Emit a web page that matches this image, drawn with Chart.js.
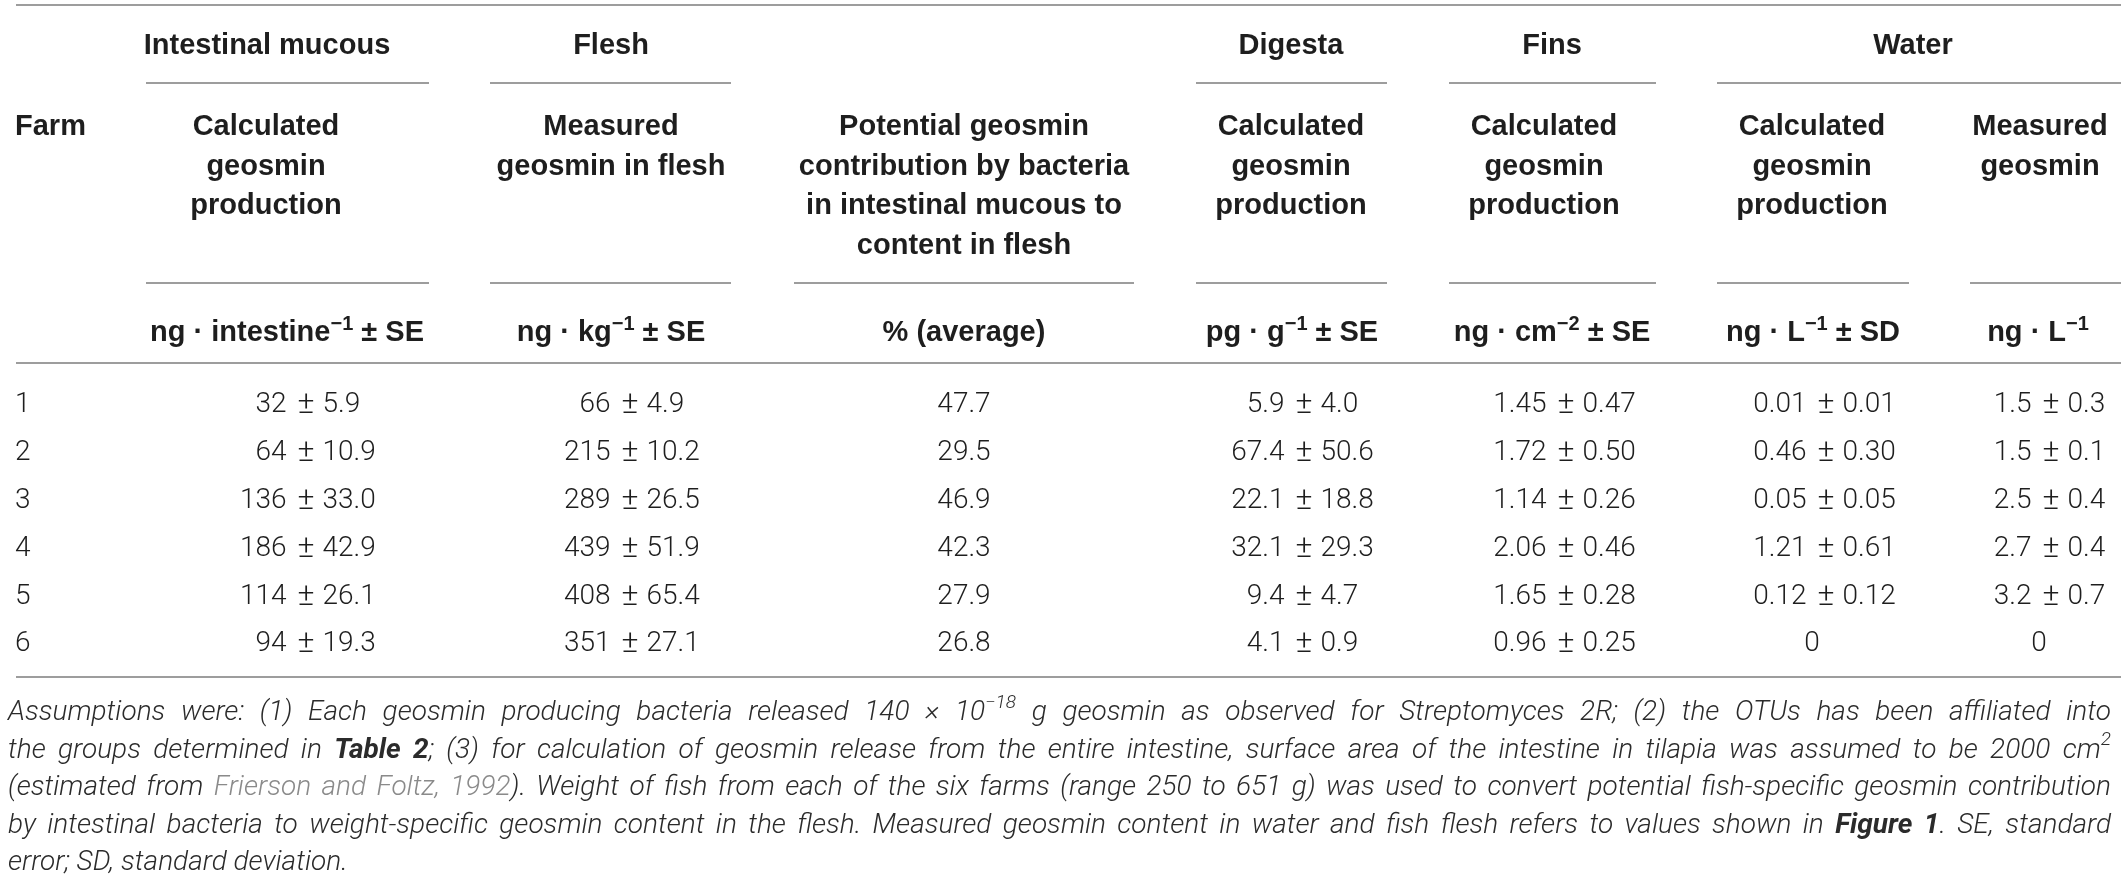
<!DOCTYPE html>
<html>
<head>
<meta charset="utf-8">
<script src="https://cdn.jsdelivr.net/npm/chart.js@4.4.0/dist/chart.umd.min.js"></script>
<style>
  html, body { margin: 0; padding: 0; background: #fff; width: 2121px; height: 880px; overflow: hidden; }
  #wrap { position: relative; width: 2121px; height: 880px; }
  #tbl { position: absolute; left: 0; top: 0; }
  #caption { position: absolute; left: 8px; top: 692px; width: 2103px;
    font-family: Roboto, "Liberation Sans", sans-serif; font-weight: 300; font-style: italic;
    font-size: 28px; line-height: 37.5px; color: #2b2b2b; }
  #caption .ln { white-space: nowrap; }
  #caption b { font-weight: 700; }
  #caption .ref { color: #8a8a8a; }
  #caption sup { font-size: 0.68em; line-height: 0; position: relative; top: -0.1em; }
</style>
</head>
<body>
<div id="wrap">
  <canvas id="tbl" width="2121" height="880"></canvas>
  <div id="caption">
    <div class="ln">Assumptions were: (1) Each geosmin producing bacteria released 140 × 10<sup>−18</sup> g geosmin as observed for Streptomyces 2R; (2) the OTUs has been affiliated into</div>
    <div class="ln">the groups determined in <b>Table 2</b>; (3) for calculation of geosmin release from the entire intestine, surface area of the intestine in tilapia was assumed to be 2000 cm<sup>2</sup></div>
    <div class="ln">(estimated from <span class="ref">Frierson and Foltz, 1992</span>). Weight of fish from each of the six farms (range 250 to 651 g) was used to convert potential fish-specific geosmin contribution</div>
    <div class="ln">by intestinal bacteria to weight-specific geosmin content in the flesh. Measured geosmin content in water and fish flesh refers to values shown in <b>Figure 1</b>. SE, standard</div>
    <div class="ln last">error; SD, standard deviation.</div>
  </div>
</div>
<script>
// ---------------- DATA ----------------
const farms = ['1', '2', '3', '4', '5', '6'];

const intestinalMean = [32, 64, 136, 186, 114, 94];
const intestinalSE   = [5.9, 10.9, 33.0, 42.9, 26.1, 19.3];

const fleshMean = [66, 215, 289, 439, 408, 351];
const fleshSE   = [4.9, 10.2, 26.5, 51.9, 65.4, 27.1];

const potentialPct = [47.7, 29.5, 46.9, 42.3, 27.9, 26.8];

const digestaMean = [5.9, 67.4, 22.1, 32.1, 9.4, 4.1];
const digestaSE   = [4.0, 50.6, 18.8, 29.3, 4.7, 0.9];

const finsMean = [1.45, 1.72, 1.14, 2.06, 1.65, 0.96];
const finsSE   = [0.47, 0.50, 0.26, 0.46, 0.28, 0.25];

const waterCalcMean = [0.01, 0.46, 0.05, 1.21, 0.12, 0];
const waterCalcSD   = [0.01, 0.30, 0.05, 0.61, 0.12, null];

const waterMeasMean = [1.5, 1.5, 2.5, 2.7, 3.2, 0];
const waterMeasSD   = [0.3, 0.1, 0.4, 0.4, 0.7, null];

// ---------------- LAYOUT / STYLE ----------------
const TEXT = '#1e1e1e';
const RULE = '#9d9d9d';
const HEAD_FONT = '700 29px "Liberation Sans", Arial, sans-serif';
const SUP_HEAD_FONT = '700 20px "Liberation Sans", Arial, sans-serif';
const VAL_PX = 28;
const VAL_FONT = '300 28px Roboto, "Liberation Sans", sans-serif';
const PM_FONT = '300 32px Roboto, "Liberation Sans", sans-serif';
const PM_GAP_L = 11;
const PM_GAP_R = 8;

const columns = [
  { key: 'farm', x: 15 },
  { key: 'int',  x: 306,  mean: intestinalMean, err: intestinalSE, dm: 0, de: 1 },
  { key: 'fle',  x: 630,  mean: fleshMean, err: fleshSE, dm: 0, de: 1 },
  { key: 'pot',  x: 964,  mean: potentialPct, dm: 1 },
  { key: 'dig',  x: 1304, mean: digestaMean, err: digestaSE, dm: 1, de: 1 },
  { key: 'fin',  x: 1566, mean: finsMean, err: finsSE, dm: 2, de: 2 },
  { key: 'wcal', x: 1826, zeroX: 1812, mean: waterCalcMean, err: waterCalcSD, dm: 2, de: 2 },
  { key: 'wmea', x: 2051, zeroX: 2039, mean: waterMeasMean, err: waterMeasSD, dm: 1, de: 1 }
];

const groupHeaders = [
  { t: 'Intestinal mucous', x: 267 },
  { t: 'Flesh', x: 611 },
  { t: 'Digesta', x: 1291 },
  { t: 'Fins', x: 1552 },
  { t: 'Water', x: 1913 }
];
const GROUP_BASE = 53.5;
const groupRules = [[146, 429], [490, 731], [1196, 1387], [1449, 1656], [1717, 2121]];
const GROUP_RULE_Y = 83;

const subHeaders = [
  { lines: ['Calculated', 'geosmin', 'production'], x: 266 },
  { lines: ['Measured', 'geosmin in flesh'], x: 611 },
  { lines: ['Potential geosmin', 'contribution by bacteria', 'in intestinal mucous to', 'content in flesh'], x: 964 },
  { lines: ['Calculated', 'geosmin', 'production'], x: 1291 },
  { lines: ['Calculated', 'geosmin', 'production'], x: 1544 },
  { lines: ['Calculated', 'geosmin', 'production'], x: 1812 },
  { lines: ['Measured', 'geosmin'], x: 2040 }
];
const SUB_BASE = [135, 174.5, 214, 253.5];
const subRules = [[146, 429], [490, 731], [794, 1134], [1196, 1387], [1449, 1656], [1717, 1909], [1970, 2121]];
const SUB_RULE_Y = 283;

const units = [
  { parts: [['ng · intestine', 0], ['−1', 1], [' ± SE', 0]], x: 287 },
  { parts: [['ng · kg', 0], ['−1', 1], [' ± SE', 0]], x: 611 },
  { parts: [['% (average)', 0]], x: 964 },
  { parts: [['pg · g', 0], ['−1', 1], [' ± SE', 0]], x: 1292 },
  { parts: [['ng · cm', 0], ['−2', 1], [' ± SE', 0]], x: 1552 },
  { parts: [['ng · L', 0], ['−1', 1], [' ± SD', 0]], x: 1813 },
  { parts: [['ng · L', 0], ['−1', 1]], x: 2038 }
];
const UNIT_BASE = 341;
const fullRules = [5, 363, 677];
const RULE_LEFT = 16;

// ---------------- DATASETS ----------------
const datasets = columns.map(col => ({
  label: col.key,
  pointRadius: 0,
  pointHoverRadius: 0,
  data: farms.map((f, i) => ({
    x: col.x,
    y: f,
    farm: f,
    mean: col.mean ? col.mean[i] : null,
    err: col.err ? col.err[i] : null
  })),
  col: col
}));

function drawRich(ctx, parts, cx, y, font, supFont) {
  let w = 0;
  const widths = parts.map(([t, s]) => { ctx.font = s ? supFont : font; const m = ctx.measureText(t).width; w += m; return m; });
  let x = cx - w / 2;
  ctx.textAlign = 'left';
  parts.forEach(([t, s], i) => {
    ctx.font = s ? supFont : font;
    ctx.fillText(t, x, s ? y - 11 : y);
    x += widths[i];
  });
}

const tablePlugin = {
  id: 'tablePlugin',
  afterDatasetsDraw(chart) {
    const ctx = chart.ctx;
    ctx.save();
    ctx.fillStyle = TEXT;
    ctx.textBaseline = 'alphabetic';

    // rules
    ctx.strokeStyle = RULE;
    ctx.lineWidth = 2;
    const hline = (x1, x2, y) => { ctx.beginPath(); ctx.moveTo(x1, y); ctx.lineTo(x2, y); ctx.stroke(); };
    fullRules.forEach(y => hline(RULE_LEFT, chart.width, y));
    groupRules.forEach(([a, b]) => hline(a, b, GROUP_RULE_Y));
    subRules.forEach(([a, b]) => hline(a, b, SUB_RULE_Y));

    // group headers
    ctx.font = HEAD_FONT;
    ctx.textAlign = 'center';
    groupHeaders.forEach(g => ctx.fillText(g.t, g.x, GROUP_BASE));

    // Farm
    ctx.textAlign = 'left';
    ctx.fillText('Farm', 15, SUB_BASE[0]);

    // sub headers
    ctx.textAlign = 'center';
    subHeaders.forEach(s => s.lines.forEach((l, i) => ctx.fillText(l, s.x, SUB_BASE[i])));

    // units
    units.forEach(u => drawRich(ctx, u.parts, u.x, UNIT_BASE, HEAD_FONT, SUP_HEAD_FONT));

    // cells (positions come from the chart scales)
    ctx.font = PM_FONT;
    const pmW = ctx.measureText('±').width;
    const baseOff = VAL_PX * 0.355;
    chart.data.datasets.forEach((ds, di) => {
      const meta = chart.getDatasetMeta(di);
      const col = ds.col;
      meta.data.forEach((pt, j) => {
        const d = ds.data[j];
        const x = pt.x, y = pt.y + baseOff;
        ctx.font = VAL_FONT;
        if (col.key === 'farm') {
          ctx.textAlign = 'left';
          ctx.fillText(d.farm, x, y);
          return;
        }
        if (d.err === null || d.err === undefined) {
          const isZero = d.mean === 0;
          const s = isZero ? '0' : d.mean.toFixed(col.dm);
          ctx.textAlign = 'center';
          ctx.fillText(s, (isZero && col.zeroX) ? chart.scales.x.getPixelForValue(col.zeroX) : x, y);
          return;
        }
        ctx.textAlign = 'right';
        ctx.fillText(d.mean.toFixed(col.dm), x - pmW / 2 - PM_GAP_L, y);
        ctx.textAlign = 'left';
        ctx.fillText(d.err.toFixed(col.de), x + pmW / 2 + PM_GAP_R, y);
        ctx.font = PM_FONT;
        ctx.textAlign = 'center';
        ctx.fillText('±', x, y + 1);
      });
    });
    ctx.restore();
  }
};

// rows: centre of row 1 at 402 px, step 47.9 px
const ROW_TOP = 402 - 47.9 / 2;
const ROW_BOTTOM = 880 - (402 + 47.9 * 5 + 47.9 / 2);

new Chart(document.getElementById('tbl'), {
  type: 'scatter',
  data: { datasets },
  options: {
    responsive: false,
    animation: false,
    events: [],
    layout: { padding: { top: ROW_TOP, bottom: ROW_BOTTOM, left: 0, right: 0 } },
    plugins: { legend: { display: false }, tooltip: { enabled: false }, title: { display: false } },
    scales: {
      x: { type: 'linear', min: 0, max: 2121, display: false },
      y: { type: 'category', labels: farms, offset: true, display: false }
    }
  },
  plugins: [tablePlugin]
});

// justify caption lines exactly to the caption width
function justifyCaption() {
  const target = 2103;
  document.querySelectorAll('#caption .ln').forEach(el => {
    if (el.classList.contains('last')) return;
    el.style.wordSpacing = '0px';
    el.style.display = 'inline-block';
    const w = el.getBoundingClientRect().width;
    const n = (el.textContent.trim().match(/ /g) || []).length;
    el.style.wordSpacing = ((target - w) / n) + 'px';
    el.style.display = 'block';
  });
}
justifyCaption();
if (document.fonts && document.fonts.ready) document.fonts.ready.then(justifyCaption);
</script>
</body>
</html>
